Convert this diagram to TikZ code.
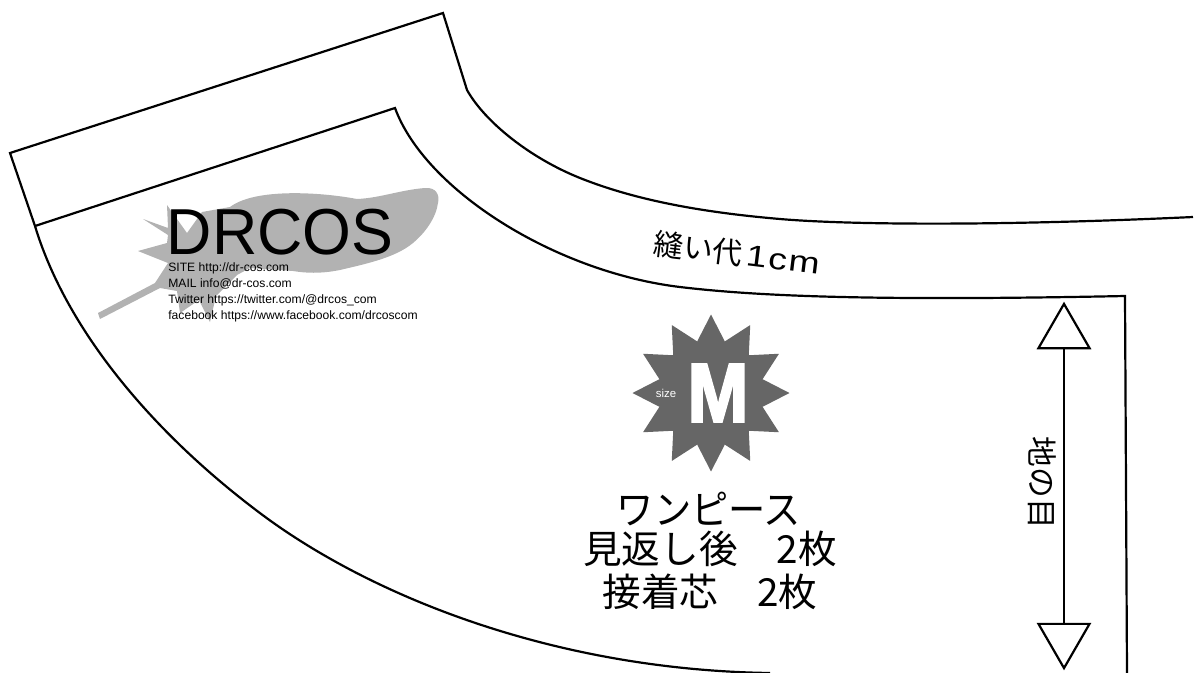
\documentclass[tikz,border=0pt]{standalone}
\usepackage{fontspec}
\setmainfont{Liberation Sans}
\newfontfamily\jpfont{Noto Sans CJK JP}
\newfontfamily\jpnarrow[FakeStretch=0.93]{Noto Sans CJK JP}
\newfontfamily\logofont[FakeStretch=0.965]{Liberation Sans}
\newfontfamily\sizefont[FakeStretch=0.88,FakeBold=2.5]{Liberation Sans Bold}
\newfontfamily\cmfont[FakeStretch=1.25,LetterSpace=6]{Liberation Sans}
\usetikzlibrary{shapes.geometric}
\newcommand{\sz}[1]{\fontsize{#1}{#1}\selectfont}
\tikzstyle{outline} = [draw, line width=1.25pt]
\tikzstyle{grainhead} = [draw, line width=1.25pt, regular polygon, regular polygon sides=3, minimum size=1.18cm, inner sep=0pt]
\tikzstyle{jplabel} = [inner sep=0pt, font=\jpfont\sz{22}]
\tikzstyle{infoline} = [inner sep=0pt, anchor=west, font=\sz{6.9}]

\begin{document}
\begin{tikzpicture}[x=0.02cm, y=-0.02cm]
	\useasboundingbox (0,0) rectangle (1194,673);
	% feather mark
	\fill[black!30] (167,205) -- (187,233) -- (202,212) -- (230,207) .. controls (255,188) and (320,192) .. (357,199) .. controls (380,198) and (400,190) .. (425,188) .. controls (436,187) and (440,195) .. (438,203) .. controls (436,218) and (425,233) .. (413,243) .. controls (395,258) and (365,264) .. (340,270) .. controls (320,274) and (305,273) .. (293,271) -- (250,268) -- (237,275) -- (216,296) -- (210,322) -- (199,300) -- (180,313) -- (177,291) -- (160,288) -- (100,319) -- (98,313) -- (155,283) -- (168,263) -- (138,251) -- (167,243) -- (168,235) -- (143,219) -- (168,228) -- cycle;
	% pattern piece
	\draw[outline] (35,226) -- (10,153) -- (443,13) -- (467,90) .. controls (485,122) and (530,158) .. (580,178) .. controls (640,202) and (710,213) .. (780,219) .. controls (850,225) and (1000,226) .. (1193,217);
	\draw[outline] (35,226) -- (395,108) .. controls (425,190) and (555,272) .. (680,287) .. controls (760,296.6) and (880,301) .. (1125,296) -- (1127,673);
	\draw[outline] (35,226) .. controls (68,335) and (160,440) .. (268,519) .. controls (380,600) and (560,670) .. (770,673);
	% size star
	\node[star, star points=12, star point ratio=1.47, minimum size=3.14cm, inner sep=0pt, fill=black!60] (star) at (711,393) {};
	\node[inner sep=0pt, text=white, font=\sizefont\sz{47.5}] (sizeM) at (718,393) {M};
	\node[inner sep=0pt, text=white, font=\sz{6.5}] (sizelabel) at (666,393) {size};
	% logo text
	\node[inner sep=0pt, font=\logofont\sz{37}] (logo) at (280,232) {DRCOS};
	\node[infoline] (site) at (168,268) {SITE http://dr-cos.com};
	\node[infoline] (mail) at (168,284) {MAIL info@dr-cos.com};
	\node[infoline] (twitter) at (168,300) {Twitter https://twitter.com/@drcos\_com};
	\node[infoline] (facebook) at (168,316) {facebook https://www.facebook.com/drcoscom};
	% piece labels
	\node[jplabel, font=\jpnarrow\sz{22.8}] (name) at (709,509) {ワンピース};
	\node[jplabel] (facing) at (710,549) {見返し後　2枚};
	\node[jplabel] (interfacing) at (710,592) {接着芯　2枚};
	\node[jplabel, font=\jpfont\sz{17}, rotate=-7] (seam) at (737,253) {縫い代\hspace{2pt}{\cmfont 1cm}};
	% grain line
	\node[grainhead] (top) at (1064,333.4) {};
	\node[grainhead, shape border rotate=180] (bot) at (1064,638.6) {};
	\draw[outline] (top.side 2) -- (bot.side 2);
	\node[jplabel, font=\jpfont\sz{17.5}, rotate=-90] (grain) at (1042,483) {地の目};
\end{tikzpicture}
\end{document}
